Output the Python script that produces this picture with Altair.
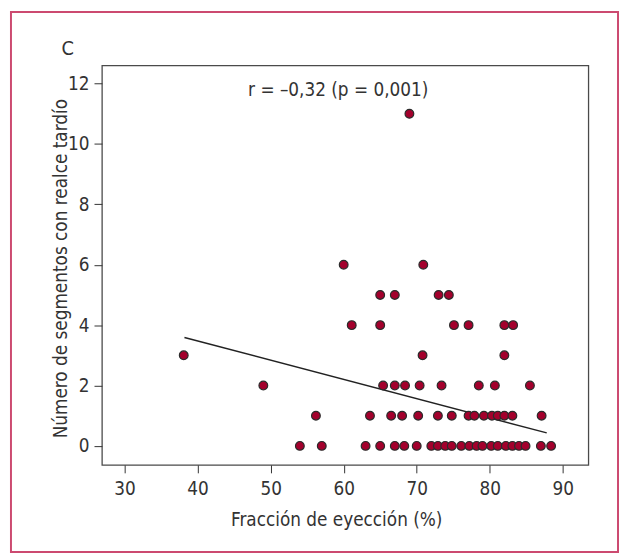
import altair as alt
import pandas as pd

# Fracción de eyección (%) and number of late-enhancement segments
ef_pct = [
    54, 57, 63, 65, 67, 68.3, 70, 72, 72.9, 73.9, 74.8, 76.1, 77.2, 78.2, 79, 80.2, 81.1, 82.2, 83.1, 84, 84.9, 87, 88.4,
    56.2, 63.6, 66.5, 68, 70.2, 72.9, 74.8, 77.1, 77.9, 79.2, 80.3, 81.1, 82, 83.1, 87.1,
    49, 65.4, 67, 68.4, 70.4, 73.4, 78.5, 80.7, 85.5,
    38.1, 70.8, 82,
    61.1, 65, 75.1, 77.1, 82, 83.2,
    65, 67, 73, 74.4,
    60, 70.9,
    69,
]
n_segments = (
    [0] * 23
    + [1] * 15
    + [2] * 9
    + [3] * 3
    + [4] * 6
    + [5] * 4
    + [6] * 2
    + [11] * 1
)

fit_x = [38.2, 87.8]
fit_y = [3.59, 0.43]

x_ticks = [30, 40, 50, 60, 70, 80, 90]
y_ticks = [0, 2, 4, 6, 8, 10, 12]

annotation = "r = \u20130,32 (p = 0,001)"
panel_label = "C"

FONT = "'DejaVu Sans Condensed', 'Roboto Condensed', Roboto, sans-serif"
FS = 19
TXT = "#333333"

pts = pd.DataFrame({"ef": ef_pct, "seg": n_segments})
fit = pd.DataFrame({"ef": fit_x, "seg": fit_y})

xscale = alt.Scale(domain=[26.9, 93.5], nice=False, zero=False)
yscale = alt.Scale(domain=[-0.63, 12.6], nice=False, zero=False)

xaxis = alt.Axis(
    values=x_ticks, title="Fracción de eyección (%)", grid=False, domain=False,
    tickSize=8, tickColor="#333", labelPadding=7, labelFontSize=FS, labelFont=FONT,
    labelColor=TXT, titleFont=FONT, titleFontSize=FS, titleFontWeight="normal",
    titleColor=TXT, titleX=237, titleY=55, titleBaseline="middle", titleAlign="center",
)
yaxis = alt.Axis(
    values=y_ticks, title="Número de segmentos con realce tardío", grid=False, domain=False,
    tickSize=8, tickColor="#333", labelPadding=5, labelFontSize=FS, labelFont=FONT,
    labelColor=TXT, titleFont=FONT, titleFontSize=FS, titleFontWeight="normal",
    titleColor=TXT, titleAngle=-90, titleX=-42, titleY=205, titleBaseline="middle",
    titleAlign="center",
)

points = alt.Chart(pts).mark_circle(
    size=78, color="#a3002c", stroke="#2b2b2b", strokeWidth=1.2, opacity=1
).encode(
    x=alt.X("ef:Q", scale=xscale, axis=xaxis),
    y=alt.Y("seg:Q", scale=yscale, axis=yaxis),
)

line = alt.Chart(fit).mark_line(color="#222222", strokeWidth=1.5).encode(
    x=alt.X("ef:Q", scale=xscale),
    y=alt.Y("seg:Q", scale=yscale),
)

ann = alt.Chart(pd.DataFrame({"t": [annotation]})).mark_text(
    font=FONT, fontSize=FS, color=TXT, align="center", baseline="middle"
).encode(x=alt.value(239), y=alt.value(25), text="t:N")

lab = alt.Chart(pd.DataFrame({"t": [panel_label]})).mark_text(
    font=FONT, fontSize=20, color=TXT, align="left", baseline="middle"
).encode(x=alt.value(-41), y=alt.value(-17), text="t:N")

border = alt.Chart(pd.DataFrame({"t": [panel_label]})).mark_rect(
    fill=None, stroke="#cc4a70", strokeWidth=2
).encode(x=alt.value(-92), x2=alt.value(522), y=alt.value(-54), y2=alt.value(492))

chart = alt.layer(border, line, points, ann, lab).properties(
    width=492,
    height=404,
    padding={"left": 95, "top": 55, "right": 31, "bottom": 90},
    autosize="none",
    background="white",
).configure_view(stroke="#4a4a4a", strokeWidth=1.3)

chart.save("out.html", embed_options={"renderer": "svg", "actions": False})
